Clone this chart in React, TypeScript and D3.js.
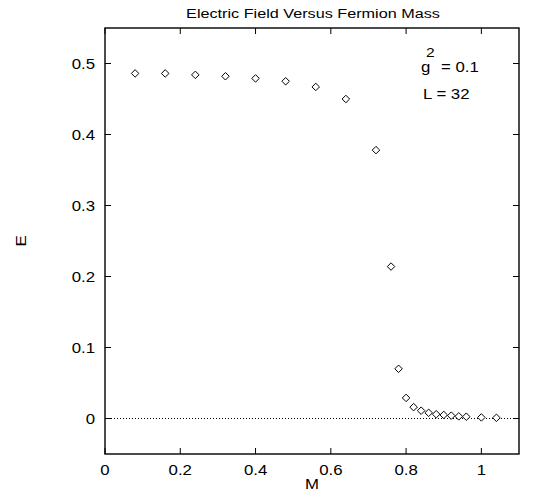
import React, { useRef, useEffect } from 'react';
import * as d3 from 'd3';

// fermion mass M and electric field E
const massValues = [
  0.08, 0.16, 0.24, 0.32, 0.4, 0.48, 0.56, 0.64, 0.72, 0.76, 0.78, 0.8, 0.82,
  0.84, 0.86, 0.88, 0.9, 0.92, 0.94, 0.96, 1.0, 1.04,
];
const fieldValues = [
  0.486, 0.486, 0.484, 0.482, 0.479, 0.475, 0.467, 0.45, 0.378, 0.214, 0.07,
  0.029, 0.016, 0.011, 0.008, 0.006, 0.005, 0.004, 0.003, 0.0025, 0.0015,
  0.001,
];
const xTicks = [0, 0.2, 0.4, 0.6, 0.8, 1];
const yTicks = [0, 0.1, 0.2, 0.3, 0.4, 0.5];

const W = 545;
const H = 493;
const margin = { left: 105, right: 26, top: 28, bottom: 39 };
const stretch = 1.2; // the original postscript text is a bit wide

const App = () => {
  const svgRef = useRef<SVGSVGElement>(null);

  useEffect(() => {
    const svg = d3.select(svgRef.current);
    svg.selectAll('*').remove();
    const font = 'Liberation Sans, Arial, Helvetica, sans-serif';

    const label = (
      px: number,
      py: number,
      str: string,
      anchor = 'start',
      size = 14,
      rot = 0
    ) =>
      svg
        .append('text')
        .attr(
          'transform',
          `translate(${px},${py}) rotate(${rot}) scale(${stretch},1)`
        )
        .attr('text-anchor', anchor)
        .attr('font-family', font)
        .attr('font-size', size)
        .text(str);

    const x = d3
      .scaleLinear()
      .domain([0, 1.1])
      .range([margin.left, W - margin.right]);
    const y = d3
      .scaleLinear()
      .domain([-0.05, 0.55])
      .range([H - margin.bottom, margin.top]);

    const [x0, x1] = x.range();
    const [y0, y1] = y.range();

    // zero line
    svg
      .append('line')
      .attr('x1', x0)
      .attr('x2', x1)
      .attr('y1', y(0))
      .attr('y2', y(0))
      .attr('stroke', '#000')
      .attr('stroke-width', 1)
      .attr('stroke-dasharray', '1,2');

    // frame
    svg
      .append('rect')
      .attr('x', x0)
      .attr('y', y1)
      .attr('width', x1 - x0)
      .attr('height', y0 - y1)
      .attr('fill', 'none')
      .attr('stroke', '#000')
      .attr('stroke-width', 1.4);

    const tickLen = 6;
    // x ticks, mirrored on top
    xTicks.forEach((t) => {
      svg.append('line')
        .attr('x1', x(t)).attr('x2', x(t))
        .attr('y1', y0).attr('y2', y0 - tickLen)
        .attr('stroke', '#000');
      svg.append('line')
        .attr('x1', x(t)).attr('x2', x(t))
        .attr('y1', y1).attr('y2', y1 + tickLen)
        .attr('stroke', '#000');
      label(x(t), y0 + 21, d3.format('~g')(t), 'middle');
    });

    // y ticks, mirrored on right
    yTicks.forEach((t) => {
      svg.append('line')
        .attr('x1', x0).attr('x2', x0 + tickLen)
        .attr('y1', y(t)).attr('y2', y(t))
        .attr('stroke', '#000');
      svg.append('line')
        .attr('x1', x1).attr('x2', x1 - tickLen)
        .attr('y1', y(t)).attr('y2', y(t))
        .attr('stroke', '#000');
      label(x0 - 10, y(t) + 5, d3.format('~g')(t), 'end');
    });

    // points
    const diamond = d3.symbol().type(d3.symbolDiamond2).size(36);
    svg
      .append('g')
      .selectAll('path')
      .data(massValues.map((m, i) => [m, fieldValues[i]]))
      .enter()
      .append('path')
      .attr('d', diamond)
      .attr('transform', (d) => `translate(${x(d[0])},${y(d[1])})`)
      .attr('fill', '#fff')
      .attr('stroke', '#000')
      .attr('stroke-width', 1);

    // title and axis labels
    label(313, 18, 'Electric Field Versus Fermion Mass', 'middle', 13.5);
    label(312, 489, 'M', 'middle');
    label(26, (y0 + y1) / 2, 'E', 'middle', 14, -90);

    // annotation: g^2 with the exponent set above the g
    label(421, 72, 'g');
    label(426, 57, '2', 'start', 13);
    label(441, 72, '= 0.1');
    label(423, 99, 'L = 32');
  }, []);

  return (
    <svg
      ref={svgRef}
      width={W}
      height={H}
      style={{ position: 'absolute', left: 0, top: 0, background: '#fff' }}
    />
  );
};

export default App;
